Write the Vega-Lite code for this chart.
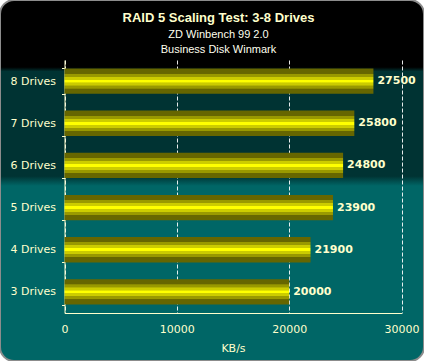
{
  "$schema": "https://vega.github.io/schema/vega-lite/v6.json",
  "width": 424,
  "height": 361,
  "autosize": {"type": "none"},
  "padding": 0,
  "background": "#ffffff",
  "view": {
    "cornerRadius": 14,
    "stroke": "#8c8c8c",
    "strokeWidth": 2,
    "fill": {
      "gradient": "linear",
      "x1": 0, "y1": 0, "x2": 0, "y2": 1,
      "stops": [
        {"offset": 0, "color": "#000000"},
        {"offset": 0.186, "color": "#000000"},
        {"offset": 0.198, "color": "#003333"},
        {"offset": 0.488, "color": "#003333"},
        {"offset": 0.515, "color": "#006666"},
        {"offset": 1, "color": "#006666"}
      ]
    }
  },
  "title": {
    "text": "RAID 5 Scaling Test: 3-8 Drives",
    "subtitle": ["ZD Winbench 99 2.0", "Business Disk Winmark"],
    "anchor": "middle",
    "frame": "group",
    "dx": 6.5,
    "offset": -61,
    "font": "Liberation Sans",
    "fontSize": 13,
    "fontWeight": "bold",
    "color": "#ffffcc",
    "subtitleFont": "Liberation Sans",
    "subtitleFontSize": 11,
    "subtitleColor": "#ffffee",
    "subtitleLineHeight": 15,
    "subtitlePadding": 4
  },
  "data": {
    "values": [
      {"drives": "8 Drives", "kbps": 27500},
      {"drives": "7 Drives", "kbps": 25800},
      {"drives": "6 Drives", "kbps": 24800},
      {"drives": "5 Drives", "kbps": 23900},
      {"drives": "4 Drives", "kbps": 21900},
      {"drives": "3 Drives", "kbps": 20000}
    ]
  },
  "encoding": {
    "y": {
      "field": "drives",
      "type": "nominal",
      "sort": null,
      "scale": {"range": [60, 313], "paddingInner": 0.4, "paddingOuter": 0.2},
      "axis": {
        "title": null,
        "offset": -64.5,
        "tickBand": "extent",
        "tickSize": 3,
        "tickColor": "#ffffcc",
        "domainColor": "#ffffcc",
        "labelColor": "#ffffcc",
        "labelFont": "DejaVu Sans",
        "labelFontSize": 11,
        "labelPadding": 6
      }
    }
  },
  "resolve": {"axis": {"x": "independent"}},
  "layer": [
    {
      "mark": {
        "type": "bar",
        "fill": {
          "gradient": "linear",
          "x1": 0, "y1": 0, "x2": 0, "y2": 1,
          "stops": [
            {"offset": 0, "color": "#666600"},
            {"offset": 0.2, "color": "#666600"},
            {"offset": 0.21, "color": "#999900"},
            {"offset": 0.32, "color": "#999900"},
            {"offset": 0.33, "color": "#cccc00"},
            {"offset": 0.44, "color": "#cccc00"},
            {"offset": 0.45, "color": "#ffff00"},
            {"offset": 0.55, "color": "#ffff00"},
            {"offset": 0.56, "color": "#cccc00"},
            {"offset": 0.67, "color": "#cccc00"},
            {"offset": 0.68, "color": "#999900"},
            {"offset": 0.79, "color": "#999900"},
            {"offset": 0.8, "color": "#666600"},
            {"offset": 1, "color": "#666600"}
          ]
        }
      },
      "encoding": {
        "x": {
          "field": "kbps",
          "type": "quantitative",
          "scale": {"domain": [0, 30000], "nice": false, "range": [64.5, 401.5]},
          "axis": {
            "orient": "bottom",
            "title": "KB/s",
            "offset": -48,
            "values": [0, 10000, 20000, 30000],
            "format": "d",
            "grid": false,
            "ticks": false,
            "tickSize": 0,
            "domainColor": "#ffffcc",
            "labelColor": "#ffffcc",
            "labelFont": "DejaVu Sans",
            "labelFontSize": 11,
            "labelPadding": 10,
            "labelFlush": false,
            "titleColor": "#ffffcc",
            "titleFont": "DejaVu Sans",
            "titleFontSize": 11,
            "titleFontWeight": "normal",
            "titlePadding": 8
          }
        }
      }
    },
    {
      "mark": {
        "type": "text",
        "align": "left",
        "baseline": "middle",
        "dx": 4,
        "font": "DejaVu Sans",
        "fontSize": 11,
        "fontWeight": "bold",
        "color": "#ffffcc"
      },
      "encoding": {
        "x": {
          "field": "kbps",
          "type": "quantitative",
          "axis": {
            "orient": "top",
            "title": null,
            "values": [0, 10000, 20000, 30000],
            "grid": true,
            "gridColor": "#ffffff",
            "gridDash": [4, 2],
            "gridOpacity": 0.9,
            "labels": false,
            "ticks": false,
            "domain": false
          }
        },
        "text": {"field": "kbps", "type": "quantitative", "format": "d"}
      }
    }
  ]
}
